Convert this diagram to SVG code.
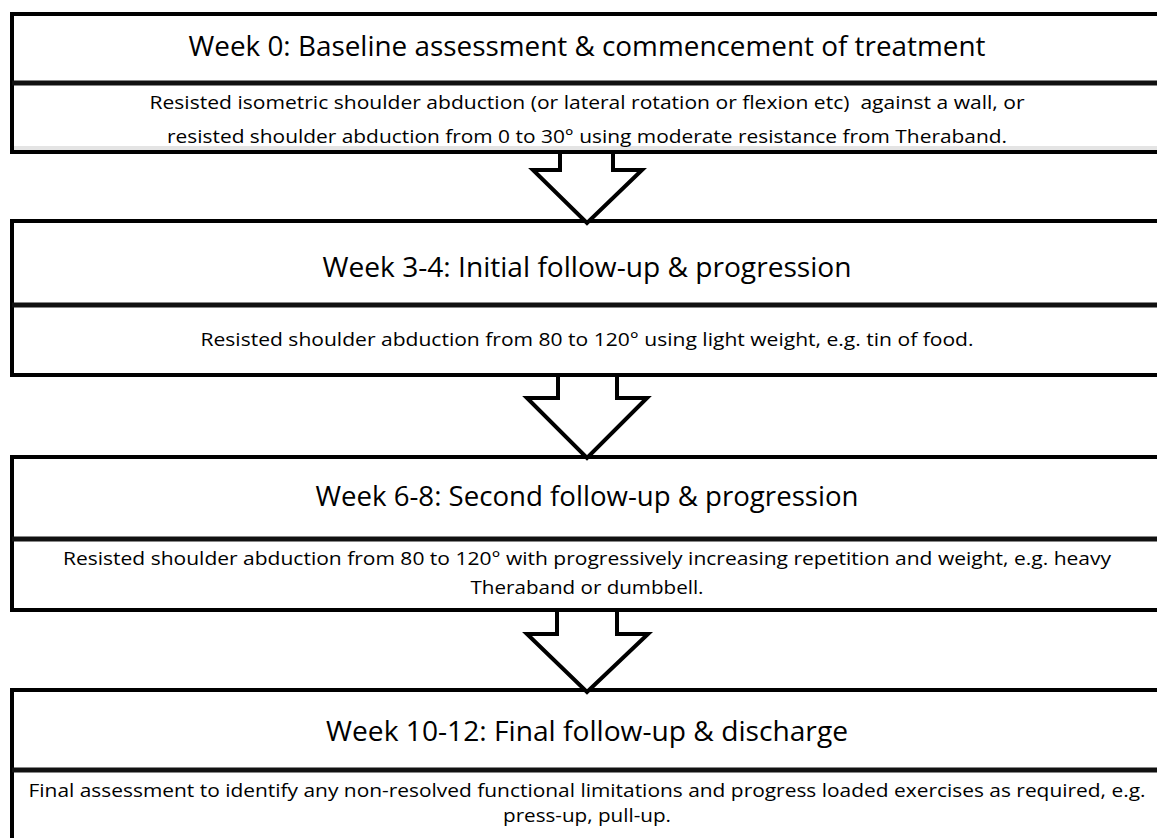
<svg xmlns="http://www.w3.org/2000/svg" width="1157" height="838" viewBox="0 0 1157 838">
<style>
.box{fill:#fff;stroke:#000;stroke-width:4}
.div{stroke:#111;stroke-width:5}
.t{font-family:"Open Sans","Noto Sans",sans-serif;font-size:27px;fill:#000;text-anchor:middle}
.s{font-family:"Open Sans","Noto Sans",sans-serif;font-size:17.5px;fill:#000;text-anchor:middle}
.arr{fill:#fff;stroke:#000;stroke-width:4;stroke-linejoin:miter}
</style>
<rect width="1157" height="838" fill="#fff"/>
<g id="node1">
<rect class="box" x="12" y="14" width="1160" height="138"/>
<rect x="14" y="146" width="1150" height="4" fill="#e4e4e4"/>
<line class="div" x1="12" y1="83" x2="1172" y2="83"/>
<text class="t" x="587" y="56" textLength="797" lengthAdjust="spacingAndGlyphs">Week 0: Baseline assessment &amp; commencement of treatment</text>
<text class="s" x="587" y="109" textLength="875" lengthAdjust="spacingAndGlyphs" xml:space="preserve">Resisted isometric shoulder abduction (or lateral rotation or flexion etc)  against a wall, or</text>
<text class="s" x="587" y="143" textLength="840" lengthAdjust="spacingAndGlyphs">resisted shoulder abduction from 0 to 30° using moderate resistance from Theraband.</text>
</g>
<g id="node2">
<rect class="box" x="12" y="221" width="1160" height="154"/>
<line class="div" x1="12" y1="305" x2="1172" y2="305"/>
<text class="t" x="587" y="277" textLength="529" lengthAdjust="spacingAndGlyphs">Week 3-4: Initial follow-up &amp; progression</text>
<text class="s" x="587" y="346" textLength="773" lengthAdjust="spacingAndGlyphs">Resisted shoulder abduction from 80 to 120° using light weight, e.g. tin of food.</text>
</g>
<g id="node3">
<rect class="box" x="12" y="457" width="1160" height="153"/>
<line class="div" x1="12" y1="539" x2="1172" y2="539"/>
<text class="t" x="587" y="506" textLength="543" lengthAdjust="spacingAndGlyphs">Week 6-8: Second follow-up &amp; progression</text>
<text class="s" x="587" y="565" textLength="1048" lengthAdjust="spacingAndGlyphs">Resisted shoulder abduction from 80 to 120° with progressively increasing repetition and weight, e.g. heavy</text>
<text class="s" x="587" y="594" textLength="233" lengthAdjust="spacingAndGlyphs">Theraband or dumbbell.</text>
</g>
<g id="node4">
<rect class="box" x="12" y="690" width="1160" height="170"/>
<line class="div" x1="12" y1="770" x2="1172" y2="770"/>
<text class="t" x="587" y="741" textLength="522" lengthAdjust="spacingAndGlyphs">Week 10-12: Final follow-up &amp; discharge</text>
<text class="s" x="587" y="797" textLength="1117" lengthAdjust="spacingAndGlyphs">Final assessment to identify any non-resolved functional limitations and progress loaded exercises as required, e.g.</text>
<text class="s" x="587" y="822" textLength="168" lengthAdjust="spacingAndGlyphs">press-up, pull-up.</text>
</g>
<g id="connectors">
<polygon class="arr" points="560,152 613,152 613,170 642,170 587,223 533,170 560,170"/>
<polygon class="arr" points="558,375 617,375 617,398 647,398 587,458 527,398 558,398"/>
<polygon class="arr" points="557,610 617,610 617,634 648,634 587,692 527,634 557,634"/>
</g>
</svg>
